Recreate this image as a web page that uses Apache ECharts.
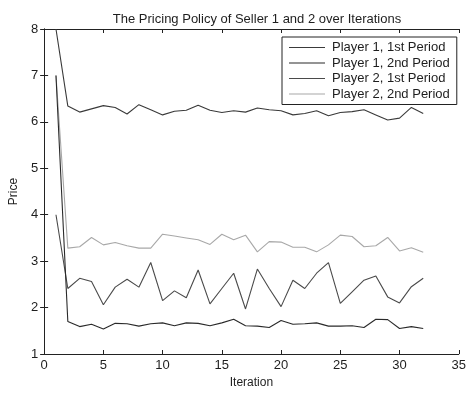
<!DOCTYPE html>
<html>
<head>
<meta charset="utf-8">
<script src="https://cdn.jsdelivr.net/npm/echarts@6/dist/echarts.min.js"></script>
<style>
  html, body { margin: 0; padding: 0; background: #fff; }
  #chart { width: 469px; height: 394px; }
</style>
</head>
<body>
<div id="chart"></div>
<script>
// Iteration index and price trajectories of both sellers
const iterations = [1, 2, 3, 4, 5, 6, 7, 8, 9, 10, 11, 12, 13, 14, 15, 16,
  17, 18, 19, 20, 21, 22, 23, 24, 25, 26, 27, 28, 29, 30, 31, 32];

const player1Period1 = [8.0, 6.34, 6.21, 6.28, 6.35, 6.31, 6.17, 6.37, 6.26, 6.15, 6.23, 6.25,
  6.36, 6.25, 6.20, 6.24, 6.21, 6.30, 6.26, 6.24, 6.15, 6.18, 6.24, 6.13,
  6.20, 6.22, 6.26, 6.15, 6.04, 6.08, 6.31, 6.18];

const player1Period2 = [7.0, 1.70, 1.59, 1.64, 1.54, 1.66, 1.65, 1.60, 1.65, 1.67, 1.61, 1.67,
  1.66, 1.61, 1.67, 1.75, 1.61, 1.60, 1.57, 1.72, 1.64, 1.65, 1.67, 1.60,
  1.60, 1.61, 1.57, 1.75, 1.74, 1.55, 1.59, 1.55];

const player2Period1 = [4.0, 2.41, 2.63, 2.56, 2.06, 2.44, 2.61, 2.44, 2.97, 2.15, 2.36, 2.21,
  2.81, 2.08, 2.41, 2.74, 1.97, 2.83, 2.41, 2.02, 2.59, 2.41, 2.74, 2.97,
  2.09, 2.34, 2.59, 2.68, 2.23, 2.10, 2.45, 2.63];

const player2Period2 = [7.0, 3.28, 3.31, 3.51, 3.35, 3.40, 3.33, 3.28, 3.28, 3.58, 3.54, 3.50,
  3.46, 3.36, 3.58, 3.46, 3.56, 3.20, 3.42, 3.41, 3.30, 3.30, 3.20, 3.35,
  3.56, 3.53, 3.31, 3.33, 3.51, 3.22, 3.29, 3.19];

const seriesNames = ['Player 1, 1st Period', 'Player 1, 2nd Period',
  'Player 2, 1st Period', 'Player 2, 2nd Period'];
const seriesValues = [player1Period1, player1Period2, player2Period1, player2Period2];
const seriesColors = ['#3a3a3a', '#2a2a2a', '#4a4a4a', '#a8a8a8'];

const FONT = 'Liberation Sans, Arial, Helvetica, sans-serif';
const AXIS_COLOR = '#222';
const TEXT_COLOR = '#1e1e1e';

const pairs = vals => iterations.map((x, i) => [x, vals[i]]);

const chart = echarts.init(document.getElementById('chart'), null, { renderer: 'canvas' });

const frameAxis = {
  axisLine: { show: true, lineStyle: { color: AXIS_COLOR, width: 1 } },
  axisTick: { show: true, inside: true, length: 4, lineStyle: { color: AXIS_COLOR } },
  splitLine: { show: false }
};

chart.setOption({
  backgroundColor: '#fff',
  animation: false,
  title: {
    text: 'The Pricing Policy of Seller 1 and 2 over Iterations',
    left: 252, top: 8, textAlign: 'center',
    textStyle: { fontFamily: FONT, fontSize: 13, fontWeight: 'normal', color: TEXT_COLOR }
  },
  grid: { left: 41, right: 8, top: 29, bottom: 40, containLabel: false },
  legend: {
    orient: 'vertical',
    left: 282, top: 37,
    padding: [4, 7, 4, 7],
    icon: 'rect',
    itemWidth: 36, itemHeight: 1.2, itemGap: 2.5,
    borderColor: AXIS_COLOR, borderWidth: 1,
    backgroundColor: '#fff',
    data: seriesNames,
    textStyle: { fontFamily: FONT, fontSize: 13, color: TEXT_COLOR, padding: [0, 0, 0, 2] }
  },
  xAxis: [
    Object.assign({
      type: 'value', min: 0, max: 35, interval: 5, position: 'bottom',
      name: 'Iteration', nameLocation: 'middle', nameGap: 20,
      nameTextStyle: { fontFamily: FONT, fontSize: 12, color: TEXT_COLOR },
      axisLabel: { fontFamily: FONT, fontSize: 13, color: TEXT_COLOR, margin: 5 }
    }, frameAxis),
    Object.assign({
      type: 'value', min: 0, max: 35, interval: 5, position: 'top',
      axisLabel: { show: false }
    }, frameAxis)
  ],
  yAxis: [
    Object.assign({
      type: 'value', min: 1, max: 8, interval: 1, position: 'left',
      name: 'Price', nameLocation: 'middle', nameGap: 23, nameRotate: 90,
      nameTextStyle: { fontFamily: FONT, fontSize: 12, color: TEXT_COLOR },
      axisLabel: { fontFamily: FONT, fontSize: 13, color: TEXT_COLOR, margin: 6 }
    }, frameAxis),
    Object.assign({
      type: 'value', min: 1, max: 8, interval: 1, position: 'right',
      axisLabel: { show: false }
    }, frameAxis)
  ],
  series: seriesNames.map((name, k) => ({
    name,
    type: 'line',
    data: pairs(seriesValues[k]),
    symbol: 'none',
    clip: true,
    lineStyle: { color: seriesColors[k], width: 1.1 },
    itemStyle: { color: seriesColors[k] },
    z: 2 + (3 - k)
  }))
});
</script>
</body>
</html>
